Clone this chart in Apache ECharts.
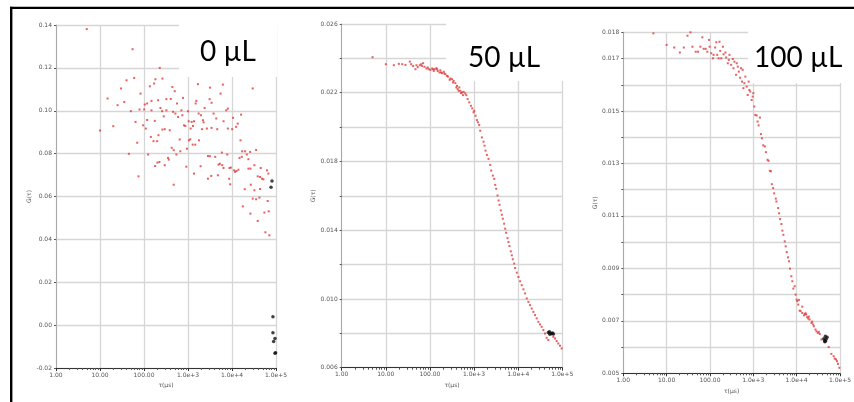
<!DOCTYPE html>
<html>
<head>
<meta charset="utf-8">
<script src="https://cdn.jsdelivr.net/npm/echarts@6/dist/echarts.min.js"></script>
<style>
html,body{margin:0;padding:0;background:#fff;}
#c{width:854px;height:402px;}
</style>
</head>
<body>
<div id="c"></div>
<script>
// ---------- DATA (tau in µs, G(tau)) ----------
const panelLabels = ['0 µL', '50 µL', '100 µL'];
const xTickValues = [1, 10, 100, 1000, 10000, 100000];

// Panel 1 : 0 µL
const red0 = [
[5.0,0.1381],[54.9,0.1287],[228,0.1200],[59.9,0.1153],[40.1,0.1142],[262,0.1150],[182,0.1147],[170,0.1127],
[29.9,0.1104],[136,0.1114],[1684,0.1124],[6200,0.1122],[3148,0.1108],[29600,0.1104],[442,0.1111],[499,0.1091],
[5490,0.1080],[83.4,0.1080],[14.9,0.1057],[35.6,0.1041],[25.1,0.1026],[323,0.1054],[405,0.1055],[209,0.1049],
[148,0.1046],[771,0.1060],[1544,0.1046],[3097,0.1054],[3433,0.1037],[1492,0.1034],[118,0.1034],[104,0.1029],
[564,0.1034],[2384,0.1013],[8050,0.1010],[7380,0.1002],[79.1,0.1006],[101,0.1006],[50.3,0.0998],[148,0.1002],
[236,0.1013],[258,0.0998],[323,0.1002],[458,0.0995],[707,0.1002],[517,0.0987],[1000,0.0998],[1744,0.0987],
[1968,0.0979],[3811,0.0987],[16100,0.0982],[281,0.0974],[594,0.0971],[745,0.0979],[64.2,0.0948],[118,0.0957],
[176,0.0953],[1036,0.0951],[1210,0.0948],[1368,0.0951],[2188,0.0956],[2265,0.0946],[4385,0.0964],[6420,0.0951],
[10600,0.0967],[13500,0.0940],[12400,0.0925],[95.7,0.0932],[110,0.0917],[262,0.0912],[296,0.0914],[385,0.0909],
[812,0.0932],[871,0.0929],[1148,0.0917],[1298,0.0929],[2074,0.0914],[2690,0.0917],[3433,0.0920],[4616,0.0914],
[8050,0.0917],[10100,0.0914],[10,0.0908],[20.0,0.0928],[143,0.0878],[164,0.0858],[199,0.0858],[213,0.0886],
[648,0.0866],[1054,0.0862],[1130,0.0867],[1775,0.0862],[70.0,0.0851],[1276,0.0842],[1466,0.0842],[427,0.0827],
[473,0.0816],[670,0.0811],[949,0.0823],[545,0.0796],[2838,0.0789],[3148,0.0788],[4157,0.0785],[5883,0.0805],
[7780,0.0796],[15600,0.0862],[17000,0.0811],[19900,0.0811],[25800,0.0808],[21700,0.0796],[35300,0.0817],[14800,0.0780],
[16700,0.0785],[23600,0.0774],[45.3,0.0799],[124,0.0796],[352,0.0780],[365,0.0772],[202,0.0758],[224,0.0761],
[296,0.0746],[179,0.0742],[917,0.0739],[1936,0.0741],[4947,0.0749],[5305,0.0753],[5990,0.0746],[6420,0.0733],
[9410,0.0735],[11200,0.0722],[11800,0.0715],[12600,0.0719],[14000,0.0725],[8770,0.0733],[23600,0.0730],[26200,0.0730],
[32300,0.0746],[45000,0.0733],[62500,0.0722],[1368,0.0707],[2838,0.0683],[3375,0.0696],[4780,0.0699],[8630,0.0683],
[9080,0.0657],[75.0,0.0694],[473,0.0655],[43500,0.0691],[48200,0.0683],[38400,0.0694],[51700,0.0680],[67000,0.0707],
[19500,0.0634],[26700,0.0655],[32300,0.0629],[43500,0.0635],[29600,0.0590],[35300,0.0587],[42000,0.0595],[64700,0.0579],
[17600,0.0554],[26200,0.0520],[38400,0.0486],[54500,0.0525],[68200,0.0531],[57300,0.0433],[70600,0.0419]
];
const black0 = [[81000,0.0672],[77000,0.0643],[85200,0.0039],[85200,-0.0035],[94900,-0.0062],[88200,-0.0076],[97800,-0.0129],[94900,-0.0131]];

// Panel 2 : 50 µL
const red50 = [
[5.01,0.02407],[10.0,0.02366],[15.2,0.02360],[19.7,0.02368],[23.5,0.02366],[27.9,0.02362],[35.0,0.02381],[37.5,0.02366],
[41.6,0.02356],[47.0,0.02337],[49.5,0.02360],[53.0,0.02349],[58.9,0.02360],[63.1,0.02366],[66.4,0.02356],[70.0,0.02372],
[75.0,0.02351],[83.2,0.02341],[89.2,0.02347],[94.0,0.02337],[102,0.02333],[112,0.02341],[118,0.02337],[122,0.02327],
[128,0.02337],[140,0.02343],[145,0.02337],[150,0.02327],[164,0.02318],[172,0.02331],[178,0.02318],[188,0.02314],
[205,0.02322],[212,0.02312],[224,0.02308],[244,0.02298],[257,0.02294],[280,0.02275],[290,0.02283],[316,0.02279],
[333,0.02260],[345,0.02269],[376,0.02256],[396,0.02231],[410,0.02240],[425,0.02221],[448,0.02211],[463,0.02231],
[488,0.02211],[505,0.02198],[532,0.02202],[560,0.02186],[580,0.02205],[633,0.02196],[667,0.02186],[714,0.02163],
[779,0.02144],[849,0.02124],[910,0.02109],[976,0.02086],[1010,0.02095],[1083,0.02066],[1161,0.02041],[1223,0.02028],
[1310,0.02012],[1380,0.01979],[1506,0.01940],[1641,0.01915],[1729,0.01892],[1822,0.01863],[1953,0.01838],[2129,0.01815],
[2323,0.01780],[2448,0.01747],[2670,0.01718],[2860,0.01699],[3013,0.01664],[3173,0.01641],[3402,0.01602],[3584,0.01573],
[3776,0.01548],[4047,0.01515],[4263,0.01490],[4490,0.01467],[4812,0.01438],[5070,0.01409],[5340,0.01385],[5723,0.01354],
[6030,0.01331],[6352,0.01308],[6808,0.01277],[7170,0.01254],[7553,0.01231],[8095,0.01206],[8528,0.01180],[9295,0.01153],
[10130,0.01128],[11060,0.01103],[12060,0.01080],[13150,0.01056],[14340,0.01032],[15640,0.01003],[17050,0.00983],[18600,0.00964],
[20280,0.00944],[22120,0.00925],[24130,0.00906],[26300,0.00887],[28700,0.00867],[31260,0.00852],[34100,0.00838],[37200,0.00819],
[40560,0.00799],[44240,0.00774],[48250,0.00761],[62630,0.00780],[68300,0.00770],[74450,0.00755],[81200,0.00741],[88600,0.00728],
[96600,0.00712]
];
const black50 = [[48300,0.00805],[51000,0.00809],[54000,0.00800],[57000,0.00797],[60000,0.00802],[63000,0.00796],[52000,0.00795]];

// Panel 3 : 100 µL
const red100 = [
[4.95,0.01796],[10.0,0.01752],[15.0,0.01742],[20.2,0.01723],[24.9,0.01742],[30.3,0.01787],[35.5,0.01800],[39.4,0.01745],
[47.0,0.01726],[53.1,0.01726],[60.1,0.01745],[66.7,0.01781],[71.6,0.01737],[79.6,0.01737],[86.9,0.01726],[94.9,0.01771],
[98.2,0.01745],[107,0.01720],[117,0.01701],[121,0.01714],[132,0.01742],[140,0.01762],[147,0.01714],[158,0.01701],
[166,0.01764],[172,0.01729],[182,0.01701],[199,0.01745],[206,0.01716],[228,0.01723],[237,0.01704],[258,0.01682],
[272,0.01695],[282,0.01714],[308,0.01676],[336,0.01698],[349,0.01663],[367,0.01688],[401,0.01638],[415,0.01682],
[438,0.01669],[462,0.01650],[495,0.01627],[522,0.01663],[550,0.01612],[570,0.01657],[590,0.01587],[622,0.01606],
[656,0.01631],[703,0.01593],[742,0.01561],[782,0.01612],[809,0.01580],[853,0.01574],[916,0.01542],[966,0.01555],
[1000,0.01568],[1055,0.01517],[1112,0.01485],[1192,0.01483],[1257,0.01460],[1325,0.01445],[1422,0.01475],[1500,0.01412],
[1580,0.01396],[1694,0.01369],[1850,0.01365],[1951,0.01343],[2130,0.01314],[2245,0.01310],[2409,0.01272],[2540,0.01270],
[2676,0.01221],[2872,0.01206],[3027,0.01186],[3305,0.01166],[3421,0.01155],[3738,0.01130],[3939,0.01110],[4150,0.01088],
[4454,0.01069],[4695,0.01044],[4950,0.01028],[5310,0.01003],[5598,0.00984],[5902,0.00962],[6335,0.00942],[6677,0.00927],
[7038,0.00899],[7554,0.00870],[7963,0.00851],[8394,0.00823],[8996,0.00832],[9483,0.00800],[10000,0.00781],[10360,0.00775],
[10920,0.00762],[11300,0.00780],[11710,0.00739],[12350,0.00737],[13480,0.00730],[13480,0.00754],[14720,0.00721],[15520,0.00726],
[16080,0.00729],[16650,0.00724],[17550,0.00714],[18500,0.00709],[19150,0.00716],[19860,0.00705],[22060,0.00692],[22850,0.00697],
[24090,0.00686],[24950,0.00679],[27230,0.00667],[28710,0.00660],[30820,0.00654],[32460,0.00658],[34220,0.00650],[37360,0.00629],
[54960,0.00600],[63350,0.00574],[71670,0.00565],[75510,0.00556],[80970,0.00553],[85370,0.00546],[89990,0.00536],[96600,0.00521]
];
const black100 = [[42300,0.00632],[44600,0.00625],[46140,0.00622],[47790,0.00630],[50370,0.00637],[46140,0.00641],[44600,0.00620]];

// y-axis ranges per panel
const yMin = [-0.02, 0.006, 0.005];
const yMax = [0.14, 0.026, 0.018];
const yStep = [0.02, 0.002, 0.001];

// ---------- CHART ----------
const grids = [
  {left: 56, top: 25, width: 220, height: 343},
  {left: 341.7, top: 24, width: 220.6, height: 343.7},
  {left: 623.3, top: 32.3, width: 217.4, height: 341}
];
const yNameGap = [23, 20, 22];
const gridColor = '#d6d6d6';

function xFmt(v) { return v < 1000 ? v.toFixed(2) : v.toExponential(1); }
function yFmt(i) {
  return function (v) {
    const k = Math.round((v - yMin[i]) / yStep[i]);
    const kMax = Math.round((yMax[i] - yMin[i]) / yStep[i]);
    if (i === 0) return v.toFixed(2);
    if (k % 2 === 0 || k === kMax) return v.toFixed(3);
    return '';
  };
}

const xAxes = [], yAxes = [], series = [];
const reds = [red0, red50, red100];
const blacks = [black0, black50, black100];
for (let i = 0; i < 3; i++) {
  xAxes.push({
    gridIndex: i, type: 'log', logBase: 10, min: xTickValues[0], max: xTickValues[xTickValues.length - 1],
    name: 'τ(µs)', nameLocation: 'middle', nameGap: 14,
    nameTextStyle: {fontSize: 6, color: '#555', fontFamily: 'DejaVu Sans'},
    axisLine: {show: true, onZero: false, lineStyle: {color: '#333', width: 1}},
    axisTick: {show: true, length: 3, lineStyle: {color: '#333'}},
    minorTick: {show: true, splitNumber: 9, length: 2, lineStyle: {color: '#555'}},
    axisLabel: {fontSize: 6, color: '#555', fontFamily: 'DejaVu Sans', margin: 4, formatter: xFmt},
    splitLine: {show: true, lineStyle: {color: gridColor, width: 1.3}}
  });
  yAxes.push({
    gridIndex: i, type: 'value', min: yMin[i], max: yMax[i], interval: yStep[i],
    name: 'G(τ)', nameLocation: 'middle', nameGap: yNameGap[i],
    nameTextStyle: {fontSize: 6, color: '#555', fontFamily: 'DejaVu Sans'},
    axisLine: {show: true, onZero: false, lineStyle: {color: '#aaa', width: 1}},
    axisTick: {show: true, length: 2, lineStyle: {color: '#555'}},
    axisLabel: {fontSize: 6, color: '#555', fontFamily: 'DejaVu Sans', margin: 4, formatter: yFmt(i)},
    splitLine: {show: true, lineStyle: {color: gridColor, width: 1.3}}
  });
  series.push({
    type: 'scatter', xAxisIndex: i, yAxisIndex: i, data: reds[i], z: 5,
    symbol: 'rect', symbolSize: 2, itemStyle: {color: '#e0393b'}, silent: true
  });
  series.push({
    type: 'scatter', xAxisIndex: i, yAxisIndex: i, data: blacks[i], z: 6,
    symbol: 'circle', symbolSize: 3.5, itemStyle: {color: '#111'}, silent: true
  });
}

const boxes = [
  {x: 179, y: 18, w: 98, h: 59, tx: 200, ty: 38},
  {x: 446, y: 18, w: 118, h: 63, tx: 468, ty: 44},
  {x: 748, y: 26, w: 95, h: 57, tx: 754, ty: 44}
];
const graphic = [];
boxes.forEach((b, i) => {
  graphic.push({type: 'rect', z: 1, shape: {x: b.x, y: b.y, width: b.w, height: b.h}, style: {fill: '#fff'}});
  graphic.push({type: 'text', z: 101, x: b.tx, y: b.ty,
    style: {text: panelLabels[i], font: '28px Lato', fill: '#000', textAlign: 'left', textVerticalAlign: 'top'}});
});
// frame (top and left black lines)
graphic.push({type: 'rect', z: 102, shape: {x: 10, y: 6.7, width: 844, height: 2.4}, style: {fill: '#000'}});
graphic.push({type: 'rect', z: 102, shape: {x: 10, y: 6.7, width: 2.4, height: 396}, style: {fill: '#000'}});

const chart = echarts.init(document.getElementById('c'), null, {renderer: 'canvas'});
chart.setOption({
  animation: false,
  backgroundColor: '#fff',
  grid: grids,
  xAxis: xAxes,
  yAxis: yAxes,
  series: series,
  graphic: graphic
});
</script>
</body>
</html>
